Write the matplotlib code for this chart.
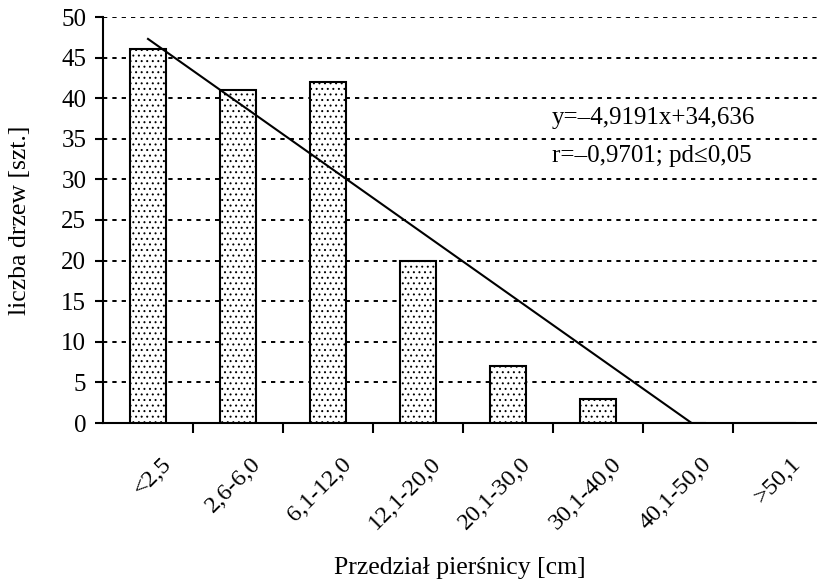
import numpy as np
import matplotlib
matplotlib.use("Agg")
from matplotlib import pyplot as plt
from matplotlib.transforms import ScaledTranslation

plt.rcParams['font.family'] = ['Liberation Serif', 'DejaVu Serif']
plt.rcParams['hatch.linewidth'] = 0.7

# data
categories = ['<2,5', '2,6-6,0', '6,1-12,0', '12,1-20,0',
              '20,1-30,0', '30,1-40,0', '40,1-50,0', '>50,1']
tree_counts = [46, 41, 42, 20, 7, 3, 0, 0]
# trend line as drawn (category index -> count)
trend_x = [0.0, 6.04]
trend_y = [47.3, 0.0]
equation = 'y=\u20134,9191x+34,636'
stats = 'r=\u20130,9701; pd\u22640,05'

fig = plt.figure(figsize=(8.17, 5.87), dpi=100)
ax = fig.add_axes([103/817, (587-423)/587, 720/817, 406/587])

x = np.arange(len(categories))
ax.bar(x, tree_counts, width=0.41, facecolor='white', edgecolor='black',
       linewidth=1.5, hatch='...', zorder=3)
ax.plot(trend_x, trend_y, color='black', lw=1.5, zorder=4)

for yv in range(5, 55, 5):
    ax.axhline(yv, color='black', lw=1.4, dashes=(2.2, 2.6), zorder=1)

ax.set_xlim(-0.5, len(categories) - 0.5)
ax.set_ylim(0, 50)
ax.set_yticks(range(0, 55, 5))
ax.tick_params(axis='y', labelsize=18, length=6, width=1.5, pad=6, direction='out')

ax.set_xticks(x)
ax.set_xticklabels(categories, rotation=45, ha='right', va='center',
                   rotation_mode='anchor', fontsize=17.5)
ax.tick_params(axis='x', which='major', length=0, pad=0)
ax.set_xticks(np.arange(0.5, len(categories), 1.0), minor=True)
ax.tick_params(axis='x', which='minor', length=7, width=1.5, direction='out')
shift = ScaledTranslation(0.20, -0.38, fig.dpi_scale_trans)
for lab in ax.get_xticklabels():
    lab.set_transform(lab.get_transform() + shift)

for side in ['top', 'right']:
    ax.spines[side].set_visible(False)
ax.spines['left'].set_linewidth(1.5)
ax.spines['bottom'].set_linewidth(1.5)

ax.text(4.49, 37.6, equation, ha='left', va='center', fontsize=18)
ax.text(4.49, 32.9, stats, ha='left', va='center', fontsize=18)

fig.text(460/817, 1 - 568/587, 'Przedzia\u0142 pier\u015bnicy [cm]',
         ha='center', va='center', fontsize=18.5)
fig.text(20/817, 1 - 220/587, 'liczba drzew [szt.]', rotation=90,
         ha='center', va='center', fontsize=18.5)

fig.savefig('out.png', dpi=100)
